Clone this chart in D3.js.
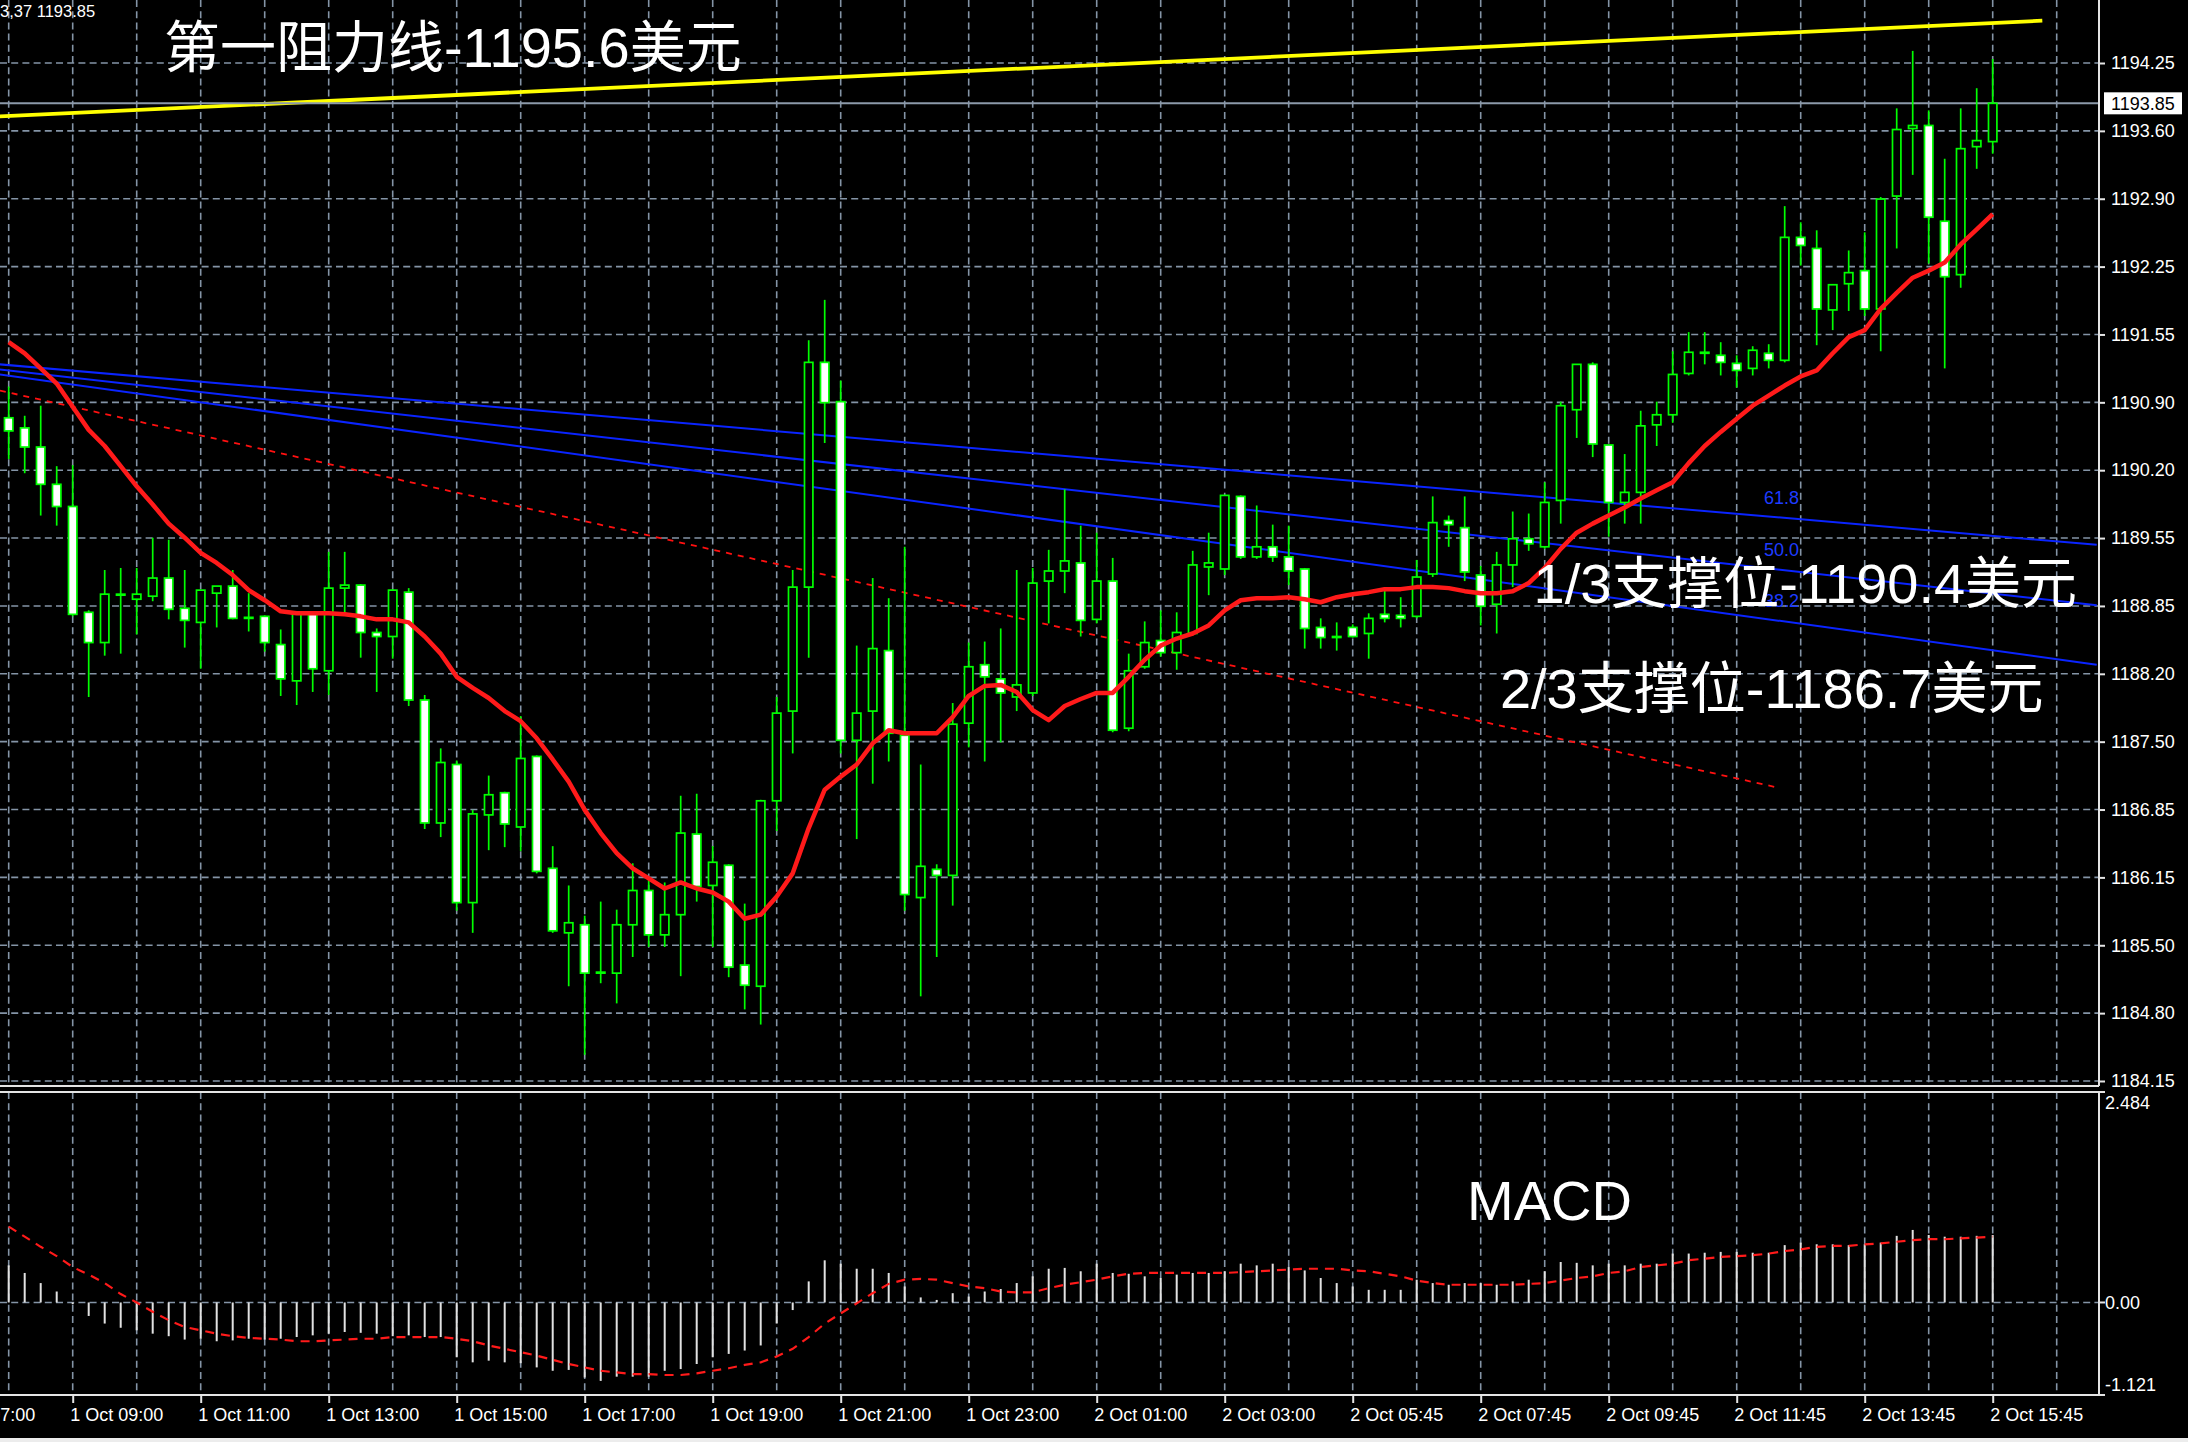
<!DOCTYPE html>
<html><head><meta charset="utf-8">
<script src="https://cdn.jsdelivr.net/npm/d3@7"></script>
<style>html,body{margin:0;padding:0;background:#000;overflow:hidden}</style>
</head><body><svg id="c" width="2188" height="1442"></svg>
<script>
// ---------------- DATA ----------------
const opens  = [1190.73,1190.63,1190.44,1190.07,1189.85,1188.80,1188.50,1188.97,1188.93,1188.96,1189.14,1188.84,1188.70,1188.99,1189.06,1188.74,1188.76,1188.48,1188.12,1188.79,1188.22,1189.04,1189.07,1188.60,1188.56,1189.00,1187.93,1186.71,1187.29,1185.92,1186.79,1187.01,1186.67,1187.37,1186.26,1185.62,1185.70,1185.23,1185.22,1185.70,1186.04,1185.60,1185.80,1186.60,1186.09,1186.29,1185.30,1185.09,1186.93,1187.82,1189.05,1191.28,1190.89,1187.53,1187.82,1188.42,1187.58,1185.97,1186.25,1186.19,1187.70,1188.28,1188.14,1187.96,1188.00,1189.11,1189.21,1189.29,1188.73,1189.11,1187.65,1188.26,1188.52,1188.40,1188.59,1189.25,1189.23,1189.95,1189.35,1189.45,1189.35,1189.23,1188.65,1188.55,1188.65,1188.59,1188.78,1188.77,1188.76,1189.18,1189.71,1189.64,1189.17,1188.88,1189.27,1189.53,1189.45,1189.91,1190.81,1191.26,1190.46,1189.89,1189.99,1190.66,1190.76,1191.17,1191.37,1191.35,1191.27,1191.22,1191.37,1191.30,1192.52,1192.41,1191.80,1192.06,1192.19,1191.81,1192.93,1193.60,1193.63,1192.68,1192.15,1193.42,1193.47];
const highs  = [1191.04,1190.75,1190.85,1190.25,1190.26,1188.82,1189.22,1189.24,1189.24,1189.54,1189.52,1189.22,1189.02,1189.06,1189.22,1188.99,1188.77,1188.63,1188.79,1188.80,1189.40,1189.40,1189.08,1188.64,1189.03,1189.04,1187.98,1187.45,1187.33,1186.84,1187.18,1187.02,1187.77,1187.38,1186.48,1186.09,1185.79,1185.93,1185.85,1186.31,1186.14,1186.12,1186.98,1187.00,1186.48,1186.30,1185.91,1186.94,1187.96,1189.22,1191.50,1191.90,1191.10,1188.47,1189.14,1188.94,1189.45,1187.29,1186.30,1187.90,1188.50,1188.51,1188.64,1189.22,1189.24,1189.42,1190.02,1189.66,1189.59,1189.34,1188.39,1188.71,1188.82,1188.80,1189.41,1189.59,1189.96,1189.96,1189.86,1189.67,1189.66,1189.24,1188.74,1188.70,1188.68,1188.79,1189.05,1188.95,1189.32,1189.95,1189.76,1189.95,1189.26,1189.40,1189.80,1189.78,1190.09,1190.89,1191.26,1191.28,1190.46,1190.37,1190.80,1190.89,1191.39,1191.58,1191.58,1191.48,1191.35,1191.44,1191.46,1192.83,1192.67,1192.59,1192.05,1192.39,1192.57,1192.92,1193.80,1194.37,1193.78,1193.30,1193.80,1194.00,1194.29];
const lows   = [1190.32,1190.18,1189.76,1189.66,1188.76,1187.96,1188.37,1188.39,1188.58,1188.91,1188.73,1188.45,1188.24,1188.65,1188.73,1188.61,1188.41,1187.97,1187.88,1188.01,1187.98,1188.79,1188.35,1188.01,1188.34,1187.87,1186.65,1186.57,1185.84,1185.62,1186.44,1186.47,1186.43,1186.21,1185.62,1185.09,1184.41,1185.12,1184.92,1185.38,1185.48,1185.48,1185.19,1185.93,1185.48,1185.18,1184.86,1184.71,1186.63,1187.40,1188.35,1190.48,1187.40,1186.55,1187.10,1187.32,1185.84,1184.99,1185.38,1185.89,1187.46,1187.32,1187.51,1187.82,1187.97,1188.69,1188.99,1188.56,1188.69,1187.61,1187.62,1188.24,1188.36,1188.23,1188.57,1188.97,1189.17,1189.33,1189.33,1189.30,1189.07,1188.44,1188.44,1188.42,1188.55,1188.34,1188.70,1188.65,1188.74,1189.15,1189.45,1189.11,1188.67,1188.59,1189.05,1189.41,1189.43,1189.68,1190.53,1190.34,1189.55,1189.68,1189.68,1190.45,1190.68,1191.15,1191.26,1191.15,1191.03,1191.15,1191.22,1191.28,1192.24,1191.45,1191.60,1191.79,1191.74,1191.39,1192.41,1193.14,1192.26,1191.22,1192.02,1193.20,1193.35];
const closes = [1190.60,1190.44,1190.07,1189.85,1188.78,1188.50,1188.98,1188.98,1188.98,1189.14,1188.83,1188.72,1189.02,1189.06,1188.74,1188.75,1188.50,1188.14,1188.79,1188.24,1189.04,1189.07,1188.60,1188.56,1189.02,1187.93,1186.71,1187.31,1185.92,1186.80,1186.99,1186.70,1187.35,1186.23,1185.64,1185.72,1185.22,1185.23,1185.70,1186.04,1185.60,1185.80,1186.61,1186.08,1186.32,1185.28,1185.10,1186.93,1187.80,1189.05,1191.28,1190.88,1187.53,1187.80,1188.44,1187.60,1186.00,1186.28,1186.19,1187.69,1188.26,1188.16,1188.00,1188.08,1189.09,1189.21,1189.31,1188.72,1189.11,1187.63,1188.22,1188.50,1188.40,1188.60,1189.27,1189.29,1189.96,1189.35,1189.45,1189.35,1189.21,1188.64,1188.55,1188.56,1188.56,1188.74,1188.74,1188.74,1189.15,1189.69,1189.67,1189.20,1188.86,1189.27,1189.53,1189.48,1189.89,1190.85,1191.26,1190.47,1189.89,1189.99,1190.65,1190.76,1191.16,1191.38,1191.38,1191.28,1191.20,1191.40,1191.30,1192.52,1192.44,1191.81,1192.05,1192.17,1191.81,1192.90,1193.59,1193.63,1192.72,1192.13,1193.40,1193.48,1193.85];
const maValues = [1191.48,1191.37,1191.22,1191.07,1190.84,1190.61,1190.45,1190.25,1190.05,1189.87,1189.68,1189.54,1189.39,1189.29,1189.17,1189.02,1188.92,1188.81,1188.79,1188.79,1188.79,1188.78,1188.76,1188.73,1188.73,1188.70,1188.56,1188.39,1188.16,1188.05,1187.95,1187.82,1187.72,1187.55,1187.34,1187.12,1186.84,1186.61,1186.41,1186.26,1186.16,1186.06,1186.12,1186.06,1186.02,1185.93,1185.76,1185.80,1185.98,1186.21,1186.66,1187.04,1187.17,1187.29,1187.50,1187.63,1187.60,1187.60,1187.60,1187.76,1187.97,1188.07,1188.08,1188.01,1187.83,1187.73,1187.87,1187.94,1188.00,1188.00,1188.16,1188.33,1188.47,1188.54,1188.59,1188.67,1188.82,1188.92,1188.94,1188.94,1188.95,1188.93,1188.90,1188.95,1188.98,1189.00,1189.03,1189.03,1189.05,1189.05,1189.04,1189.01,1188.99,1188.99,1189.01,1189.09,1189.24,1189.43,1189.59,1189.68,1189.76,1189.84,1189.93,1190.01,1190.09,1190.28,1190.45,1190.59,1190.72,1190.85,1190.95,1191.05,1191.14,1191.20,1191.37,1191.53,1191.60,1191.81,1191.97,1192.12,1192.19,1192.27,1192.45,1192.60,1192.75];
const macdValues = [0.44,0.35,0.23,0.13,-0.02,-0.16,-0.25,-0.30,-0.33,-0.37,-0.40,-0.44,-0.43,-0.46,-0.45,-0.43,-0.44,-0.43,-0.41,-0.39,-0.37,-0.35,-0.36,-0.37,-0.40,-0.39,-0.41,-0.41,-0.65,-0.71,-0.69,-0.71,-0.72,-0.77,-0.81,-0.80,-0.89,-0.93,-0.88,-0.88,-0.88,-0.81,-0.79,-0.73,-0.65,-0.61,-0.57,-0.51,-0.25,-0.09,0.25,0.50,0.46,0.40,0.40,0.35,0.19,0.06,0.03,0.11,0.07,0.13,0.16,0.23,0.31,0.40,0.41,0.37,0.46,0.35,0.34,0.31,0.29,0.33,0.35,0.35,0.37,0.46,0.44,0.46,0.42,0.38,0.29,0.23,0.19,0.15,0.15,0.15,0.27,0.23,0.21,0.23,0.23,0.21,0.25,0.27,0.37,0.48,0.47,0.44,0.46,0.44,0.46,0.46,0.58,0.58,0.59,0.60,0.60,0.59,0.59,0.68,0.71,0.69,0.69,0.68,0.69,0.71,0.79,0.86,0.80,0.78,0.78,0.79,0.80];
const signalValues = [0.90,0.78,0.66,0.55,0.42,0.33,0.23,0.10,0.00,-0.11,-0.21,-0.29,-0.33,-0.37,-0.40,-0.42,-0.43,-0.44,-0.46,-0.46,-0.45,-0.44,-0.43,-0.43,-0.41,-0.41,-0.41,-0.41,-0.43,-0.46,-0.51,-0.55,-0.59,-0.63,-0.68,-0.73,-0.77,-0.81,-0.83,-0.85,-0.85,-0.86,-0.86,-0.84,-0.81,-0.78,-0.74,-0.71,-0.64,-0.55,-0.41,-0.25,-0.13,-0.01,0.11,0.22,0.27,0.28,0.27,0.23,0.19,0.17,0.13,0.12,0.12,0.17,0.21,0.24,0.27,0.31,0.34,0.35,0.35,0.35,0.35,0.35,0.35,0.36,0.37,0.38,0.39,0.40,0.40,0.40,0.38,0.37,0.34,0.31,0.26,0.23,0.21,0.21,0.21,0.21,0.21,0.22,0.23,0.26,0.29,0.31,0.35,0.37,0.42,0.44,0.46,0.50,0.52,0.54,0.55,0.56,0.58,0.61,0.63,0.66,0.67,0.67,0.69,0.70,0.72,0.74,0.75,0.75,0.76,0.77,0.78];
const priceTickLabels = ["1184.15","1184.80","1185.50","1186.15","1186.85","1187.50","1188.20","1188.85","1189.55","1190.20","1190.90","1191.55","1192.25","1192.90","1193.60","1194.25"];
const macdTickValues = [2.484, 0, -1.121];
const macdTickLabels = ["2.484","0.00","-1.121"];
const timeLabelBars = [-4,4,12,20,28,36,44,52,60,68,76,84,92,100,108,116,124];
const timeLabels = ["1 Oct 07:00","1 Oct 09:00","1 Oct 11:00","1 Oct 13:00","1 Oct 15:00","1 Oct 17:00","1 Oct 19:00","1 Oct 21:00","1 Oct 23:00","2 Oct 01:00","2 Oct 03:00","2 Oct 05:45","2 Oct 07:45","2 Oct 09:45","2 Oct 11:45","2 Oct 13:45","2 Oct 15:45"];
const currentPrice = 1193.85;
const headerText = "3,37 1193.85";
// chart objects (bar index, price)
const fanStartBar = -0.55, fanEndBar = 130.5;
const fanStartPrices = [1191.26, 1191.21, 1191.16];
const fanEndPrices = [1189.47, 1188.87, 1188.28];
const fanLabels = ["61.8", "50.0", "38.2"];
const fanLabelBar = 109.7;
const resistanceLine = [{bar:-0.55, price:1193.72}, {bar:127.1, price:1194.67}];
const downTrendLine = [{bar:-0.55, price:1191.00}, {bar:110.6, price:1187.06}];
const annotations = [
  {text:"第一阻力线-1195.6美元", bar:9.7, price:1194.21},
  {text:"1/3支撑位-1190.4美元", bar:95.3, price:1188.89},
  {text:"2/3支撑位-1186.7美元", bar:93.2, price:1187.85}
];
const macdTitle = "MACD";

// ---------------- LAYOUT ----------------
const W = 2188, H = 1442;
const plotRight = 2099, mainBottom = 1086, macdTop = 1092, macdBottom = 1395;
const x = d3.scaleLinear().domain([0, 124]).range([8.7, 1992.7]);
const y = d3.scaleLinear().domain([1184.15, 1194.25]).range([1081, 63]);
const ym = d3.scaleLinear().domain([-1.121, 2.484]).range([1397, 1093]);
const priceTicks = d3.range(priceTickLabels.length).map(i => 1184.15 + i * (10.10 / 15));
const gridBars = d3.range(0, 129, 4);
const gridColor = "#8494a6";
const dash = "7,4.2";
const axisFont = "'Liberation Sans', Arial, sans-serif";
const cjkFont = "'Liberation Sans', 'Noto Sans CJK SC', sans-serif";

const svg = d3.select("#c");
svg.append("rect").attr("width", W).attr("height", H).attr("fill", "#000");

const defs = svg.append("defs");
defs.append("clipPath").attr("id", "mainClip").append("rect")
  .attr("x", 0).attr("y", 0).attr("width", plotRight).attr("height", mainBottom);
defs.append("clipPath").attr("id", "macdClip").append("rect")
  .attr("x", 0).attr("y", macdTop).attr("width", plotRight).attr("height", macdBottom - macdTop);

// ---------- main grid ----------
const main = svg.append("g").attr("clip-path", "url(#mainClip)");
main.selectAll(".hg").data(priceTicks).join("line")
  .attr("x1", 0).attr("x2", plotRight).attr("y1", d => y(d)).attr("y2", d => y(d))
  .attr("stroke", gridColor).attr("stroke-width", 1.6).attr("stroke-dasharray", dash);
main.selectAll(".vg").data(gridBars).join("line")
  .attr("x1", d => x(d)).attr("x2", d => x(d)).attr("y1", 0).attr("y2", mainBottom)
  .attr("stroke", gridColor).attr("stroke-width", 1.6).attr("stroke-dasharray", dash);

// ---------- chart objects ----------
main.append("line")
  .attr("x1", x(resistanceLine[0].bar)).attr("y1", y(resistanceLine[0].price))
  .attr("x2", x(resistanceLine[1].bar)).attr("y2", y(resistanceLine[1].price))
  .attr("stroke", "#ffff00").attr("stroke-width", 3.8);
fanStartPrices.forEach((p, i) => {
  main.append("line")
    .attr("x1", x(fanStartBar)).attr("y1", y(p))
    .attr("x2", x(fanEndBar)).attr("y2", y(fanEndPrices[i]))
    .attr("stroke", "#0a24ff").attr("stroke-width", 2);
  const t = (fanLabelBar - fanStartBar) / (fanEndBar - fanStartBar);
  const lp = p + t * (fanEndPrices[i] - p);
  main.append("text").attr("x", x(fanLabelBar)).attr("y", y(lp) - 12)
    .attr("fill", "#1e3cff").attr("font-family", axisFont).attr("font-size", 18)
    .text(fanLabels[i]);
});
main.append("line")
  .attr("x1", x(downTrendLine[0].bar)).attr("y1", y(downTrendLine[0].price))
  .attr("x2", x(downTrendLine[1].bar)).attr("y2", y(downTrendLine[1].price))
  .attr("stroke", "#ff1010").attr("stroke-width", 1.8).attr("stroke-dasharray", "6,6");

// current price line
main.append("line").attr("x1", 0).attr("x2", plotRight)
  .attr("y1", y(currentPrice)).attr("y2", y(currentPrice))
  .attr("stroke", "#8c9aaa").attr("stroke-width", 2);

// ---------- candles ----------
const bars = opens.map((o, i) => ({i, o, h: highs[i], l: lows[i], c: closes[i]}));
const cg = main.append("g");
cg.selectAll(".wick").data(bars).join("line")
  .attr("x1", d => x(d.i)).attr("x2", d => x(d.i))
  .attr("y1", d => y(d.h)).attr("y2", d => y(d.l))
  .attr("stroke", "#00ff00").attr("stroke-width", 1.7);
const bodyW = 8.4;
cg.selectAll(".body").data(bars).join("rect")
  .attr("x", d => x(d.i) - bodyW / 2)
  .attr("y", d => y(Math.max(d.o, d.c)))
  .attr("width", bodyW)
  .attr("height", d => Math.max(1, Math.abs(y(d.o) - y(d.c))))
  .attr("fill", d => d.c < d.o ? "#ffffff" : "#000000")
  .attr("stroke", "#00ff00").attr("stroke-width", 1.7);

// ---------- moving average ----------
main.append("path").datum(maValues)
  .attr("d", d3.line().x((d, i) => x(i)).y(d => y(d)))
  .attr("fill", "none").attr("stroke", "#ff1a1a").attr("stroke-width", 4.5)
  .attr("stroke-linejoin", "round");

// ---------- annotations ----------
annotations.forEach(a => {
  svg.append("text").attr("x", x(a.bar)).attr("y", y(a.price))
    .attr("fill", "#ffffff").attr("font-family", cjkFont).attr("font-size", 56)
    .text(a.text);
});

// header text
svg.append("text").attr("x", 0).attr("y", 17)
  .attr("fill", "#ffffff").attr("font-family", axisFont).attr("font-size", 16.5)
  .text(headerText);

// ---------- MACD panel ----------
const macd = svg.append("g").attr("clip-path", "url(#macdClip)");
macd.selectAll(".mvg").data(gridBars).join("line")
  .attr("x1", d => x(d)).attr("x2", d => x(d)).attr("y1", macdTop).attr("y2", macdBottom)
  .attr("stroke", gridColor).attr("stroke-width", 1.6).attr("stroke-dasharray", dash);
macd.append("line").attr("x1", 0).attr("x2", plotRight).attr("y1", ym(0)).attr("y2", ym(0))
  .attr("stroke", gridColor).attr("stroke-width", 1.6).attr("stroke-dasharray", dash);
macd.selectAll(".hist").data(macdValues).join("line")
  .attr("x1", (d, i) => x(i)).attr("x2", (d, i) => x(i))
  .attr("y1", ym(0)).attr("y2", d => ym(d))
  .attr("stroke", "#e2e2e2").attr("stroke-width", 2);
macd.append("path").datum(signalValues)
  .attr("d", d3.line().x((d, i) => x(i)).y(d => ym(d)))
  .attr("fill", "none").attr("stroke", "#ff1a1a").attr("stroke-width", 2.2)
  .attr("stroke-dasharray", "9,7");
svg.append("text").attr("x", 1467).attr("y", 1220)
  .attr("fill", "#ffffff").attr("font-family", axisFont).attr("font-size", 56)
  .text(macdTitle);

// ---------- frames ----------
const frameColor = "#e4e4e4";
svg.append("line").attr("x1", plotRight).attr("x2", plotRight).attr("y1", 0).attr("y2", mainBottom)
  .attr("stroke", frameColor).attr("stroke-width", 2);
svg.append("line").attr("x1", 0).attr("x2", plotRight).attr("y1", mainBottom).attr("y2", mainBottom)
  .attr("stroke", frameColor).attr("stroke-width", 2);
svg.append("rect").attr("x", -2).attr("y", macdTop).attr("width", plotRight + 2).attr("height", macdBottom - macdTop)
  .attr("fill", "none").attr("stroke", frameColor).attr("stroke-width", 2);

// ---------- price axis ----------
const pAxis = svg.append("g").attr("transform", `translate(${plotRight},0)`)
  .call(d3.axisRight(y).tickValues(priceTicks).tickFormat((d, i) => priceTickLabels[i])
    .tickSize(6).tickSizeOuter(0).tickPadding(6));
pAxis.select(".domain").remove();
pAxis.selectAll(".tick line").attr("stroke", frameColor).attr("stroke-width", 2);
pAxis.selectAll(".tick text").attr("fill", "#ffffff").attr("font-family", axisFont).attr("font-size", 18);

// current price label
svg.append("rect").attr("x", 2104).attr("y", y(currentPrice) - 11).attr("width", 78).attr("height", 22)
  .attr("fill", "#ffffff");
svg.append("text").attr("x", 2111).attr("y", y(currentPrice)).attr("dy", "0.35em")
  .attr("fill", "#000000").attr("font-family", axisFont).attr("font-size", 18)
  .text(currentPrice.toFixed(2));

// ---------- MACD axis ----------
const macdTickY = [macdTop, ym(0), macdBottom];
const macdLabelDy = ["0.95em", "0.35em", "-0.25em"];
macdTickValues.forEach((v, i) => {
  svg.append("line").attr("x1", plotRight).attr("x2", plotRight + 6)
    .attr("y1", macdTickY[i]).attr("y2", macdTickY[i]).attr("stroke", frameColor).attr("stroke-width", 2);
  svg.append("text").attr("x", 2105).attr("y", macdTickY[i]).attr("dy", macdLabelDy[i])
    .attr("fill", "#ffffff").attr("font-family", axisFont).attr("font-size", 18)
    .text(macdTickLabels[i]);
});

// ---------- time axis ----------
const tAxis = svg.append("g").attr("transform", `translate(0,${macdBottom})`)
  .call(d3.axisBottom(x).tickValues(timeLabelBars).tickFormat((d, i) => timeLabels[i])
    .tickSize(8).tickSizeOuter(0).tickPadding(5));
tAxis.select(".domain").remove();
tAxis.selectAll(".tick line").attr("stroke", frameColor).attr("stroke-width", 2);
tAxis.selectAll(".tick text").attr("fill", "#ffffff").attr("font-family", axisFont).attr("font-size", 18)
  .attr("text-anchor", "start").attr("x", -3);

// bottom strip
svg.append("rect").attr("x", 0).attr("y", 1438).attr("width", W).attr("height", 4).attr("fill", "#ececec");
</script>
</body></html>
